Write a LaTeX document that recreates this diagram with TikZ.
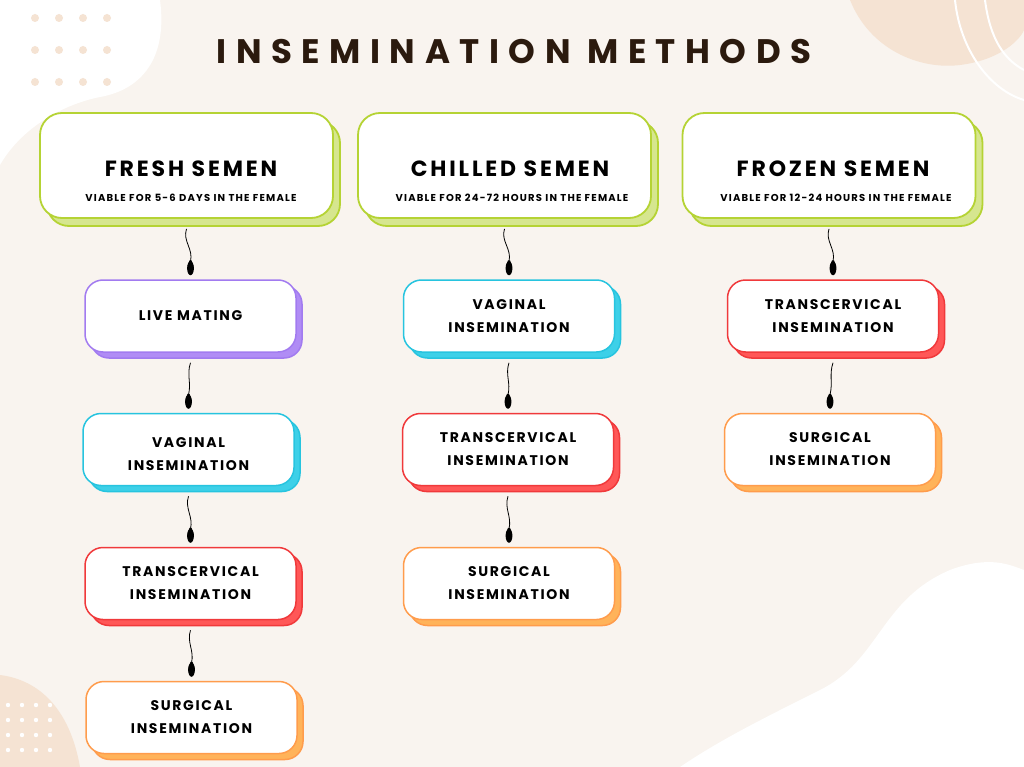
\documentclass[tikz,border=0pt]{standalone}
\usepackage{fontspec}
\setmainfont{Poppins}
\newfontfamily\titlef[LetterSpace=28]{Poppins}
\newfontfamily\headf[LetterSpace=13]{Poppins}
\newfontfamily\subf[LetterSpace=12]{Poppins}
\newfontfamily\boxf[LetterSpace=12]{Poppins}
\usetikzlibrary{shadows,calc}
\definecolor{bg}{HTML}{F9F4EF}
\definecolor{peach}{HTML}{F5E3D3}
\definecolor{ttl}{HTML}{2B1A0E}
\definecolor{gB}{HTML}{B5D334}\definecolor{gS}{HTML}{D6E68F}
\definecolor{pB}{HTML}{A27BF0}\definecolor{pS}{HTML}{B08CF5}
\definecolor{cB}{HTML}{27C4DF}\definecolor{cS}{HTML}{3DD0E8}
\definecolor{rB}{HTML}{F0393B}\definecolor{rS}{HTML}{FF5757}
\definecolor{oB}{HTML}{FF9C4C}\definecolor{oS}{HTML}{FFB35A}
\tikzset{
 hdr/.style 2 args={draw=#1, line width=1.8pt, fill=white, rounded corners=22pt,
   minimum width=293pt, minimum height=105pt, inner sep=0pt, align=center,
   drop shadow={shadow xshift=7pt, shadow yshift=-8pt, fill=#2, draw=#1, opacity=1}},
 sub/.style 2 args={draw=#1, line width=1.5pt, fill=white, rounded corners=18pt,
   minimum width=211pt, minimum height=72pt, inner sep=0pt, align=center,
   font=\boxf\bfseries\fontsize{14}{23}\selectfont,
   drop shadow={shadow xshift=6pt, shadow yshift=-6pt, fill=#2, draw=#1, opacity=1}},
 htxt/.style={font=\headf\bfseries\fontsize{22}{26}\selectfont},
 stxt/.style={font=\subf\bfseries\fontsize{10}{12}\selectfont},
}
\newcommand{\spermlink}[2]{%
 \path (#1.south) ++(0,10) coordinate (t1);
 \path (#2.north) ++(0,-18) coordinate (h1);
 \draw[line width=0.8pt] (t1) .. controls +(-4,12) and +(3,-12) .. (h1);
 \fill ($(h1)+(0,7)$) ellipse [x radius=3.4pt, y radius=7pt];
 \fill ($(h1)+(-1,-1)$) -- ($(h1)+(1,-1)$) -- ($(h1)+(3,5)$) -- ($(h1)+(-3,5)$) -- cycle;
}
\begin{document}
\begin{tikzpicture}[x=1pt,y=-1pt]
\fill[bg] (0,0) rectangle (1024,767);
\useasboundingbox (0,0) rectangle (1024,767);
% background shapes
\fill[white] (0,0) -- (160,0) .. controls (168,60) and (140,90) .. (100,97) .. controls (60,105) and (20,130) .. (0,165) -- cycle;
\fill[peach] (850,0) .. controls (870,50) and (920,70) .. (960,65) .. controls (1000,60) and (1020,40) .. (1024,30) -- (1024,0) -- cycle;
\draw[white, line width=2pt] (955,0) .. controls (960,50) and (990,90) .. (1024,100);
\draw[white, line width=2pt] (985,0) .. controls (990,40) and (1005,60) .. (1024,70);
\fill[white] (680,767) .. controls (720,740) and (760,720) .. (820,690) .. controls (880,660) and (880,600) .. (950,570) .. controls (990,555) and (1010,565) .. (1024,570) -- (1024,767) -- cycle;
\fill[peach] (0,675) .. controls (40,680) and (70,710) .. (80,767) -- (0,767) -- cycle;
\foreach \x in {35,59,83,107}{\foreach \y in {18,50,82}{\fill[peach] (\x,\y) circle (4);}}
\foreach \x in {8,22,36,50}{\foreach \y in {705,720,735,750}{\fill[white] (\x,\y) circle (2.2);}}
% title
\node[font=\titlef\bfseries\fontsize{34}{40}\selectfont, text=ttl] (title) at (514,52) {INSEMINATION METHODS};
% headers
\node[hdr={gB}{gS}] (fresh) at (186.5,165.5) {};
\node[hdr={gB}{gS}] (chilled) at (504.5,165.5) {};
\node[hdr={gB}{gS}] (frozen) at (829,165.5) {};
\node[htxt] (freshT) at (191,169) {FRESH SEMEN};
\node[stxt] (freshS) at (191,198) {VIABLE FOR 5-6 DAYS IN THE FEMALE};
\node[htxt] (chilledT) at (510,169) {CHILLED SEMEN};
\node[stxt] (chilledS) at (512,198) {VIABLE FOR 24-72 HOURS IN THE FEMALE};
\node[htxt] (frozenT) at (833,169) {FROZEN SEMEN};
\node[stxt] (frozenS) at (836,198) {VIABLE FOR 12-24 HOURS IN THE FEMALE};
% fresh column
\node[sub={pB}{pS}] (f1) at (190.5,316) {\raisebox{-4pt}{LIVE MATING}};
\node[sub={cB}{cS}] (f2) at (188.5,449.5) {\\[-4pt]VAGINAL\\INSEMINATION};
\node[sub={rB}{rS}] (f3) at (190.5,583.5) {TRANSCERVICAL\\INSEMINATION};
\node[sub={oB}{oS}] (f4) at (191.5,717.5) {SURGICAL\\INSEMINATION};
% chilled column
\node[sub={cB}{cS}] (c1) at (509,316) {VAGINAL\\INSEMINATION};
\node[sub={rB}{rS}] (c2) at (508,449.5) {TRANSCERVICAL\\INSEMINATION};
\node[sub={oB}{oS}] (c3) at (509,583.5) {SURGICAL\\INSEMINATION};
% frozen column
\node[sub={rB}{rS}] (z1) at (833,316) {TRANSCERVICAL\\INSEMINATION};
\node[sub={oB}{oS}] (z2) at (830,449.5) {SURGICAL\\INSEMINATION};
% connectors
\spermlink{fresh}{f1}\spermlink{f1}{f2}\spermlink{f2}{f3}\spermlink{f3}{f4}
\spermlink{chilled}{c1}\spermlink{c1}{c2}\spermlink{c2}{c3}
\spermlink{frozen}{z1}\spermlink{z1}{z2}
\end{tikzpicture}
\end{document}
